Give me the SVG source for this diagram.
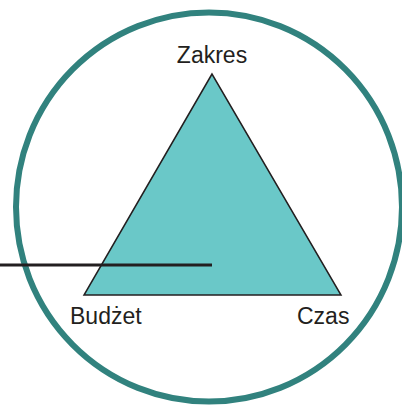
<svg xmlns="http://www.w3.org/2000/svg" width="402" height="406" viewBox="0 0 402 406">
<style>
.lbl{font-family:"Liberation Sans",Arial,sans-serif;font-size:23px;fill:#231F20}
</style>
<rect width="402" height="406" fill="#ffffff"/>
<g id="circle"><ellipse cx="209" cy="207" rx="193" ry="194.5" fill="none" stroke="#31827E" stroke-width="6"/></g>
<g id="triangle"><polygon points="212,74 84,295 341,295" fill="#6AC8C8" stroke="#231F20" stroke-width="1.5" stroke-linejoin="miter"/></g>
<g id="connectors"><line x1="0" y1="265" x2="212" y2="265" stroke="#231F20" stroke-width="3"/></g>
<g id="zakres"><text class="lbl" x="212" y="63" text-anchor="middle">Zakres</text></g>
<g id="budzet"><text class="lbl" x="70" y="324">Budżet</text></g>
<g id="czas"><text class="lbl" x="297" y="324">Czas</text></g>
</svg>
